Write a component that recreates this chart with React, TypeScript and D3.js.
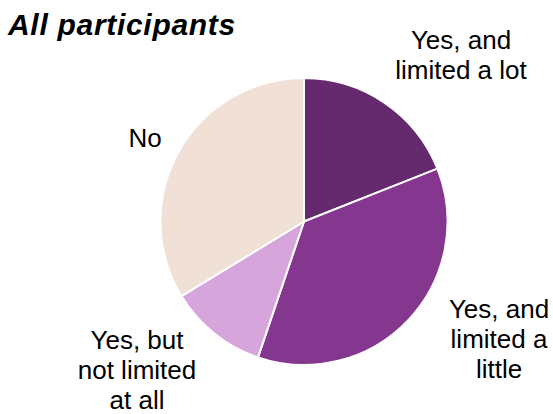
import React from "react";
import * as d3 from "d3";

const categories = [
  "Yes, and limited a lot",
  "Yes, and limited a little",
  "Yes, but not limited at all",
  "No",
];
const values = [19, 36.2, 11.1, 33.7];
const colors = ["#65296e", "#85378f", "#d5a5dc", "#f0e0d6"];
const labelLines = [
  ["Yes, and", "limited a lot"],
  ["Yes, and", "limited a", "little"],
  ["Yes, but", "not limited", "at all"],
  ["No"],
];
const labelPos: [number, number][] = [
  [461, 49],
  [499, 318],
  [137, 349],
  [145, 147],
];
const title = "All participants";

export default function App() {
  const W = 553;
  const H = 414;
  const cx = 304;
  const cy = 221.5;
  const r = 143.5;
  const pie = d3
    .pie<number>()
    .sort(null)
    .value((d) => d);
  const arcs = pie(values);
  const arc = d3.arc<d3.PieArcDatum<number>>().innerRadius(0).outerRadius(r);
  const font = "'Liberation Sans', Arial, Helvetica, sans-serif";
  return (
    <svg
      width={W}
      height={H}
      style={{ position: "absolute", left: 0, top: 0, background: "#fff" }}
    >
      <text
        x={8}
        y={35}
        fontFamily={font}
        fontWeight="bold"
        fontStyle="italic"
        fontSize={30}
        letterSpacing={0.7}
        fill="#000"
      >
        {title}
      </text>
      <g transform={`translate(${cx},${cy})`}>
        {arcs.map((a, i) => (
          <path
            key={categories[i]}
            d={arc(a) || ""}
            fill={colors[i]}
            stroke="#fff"
            strokeWidth={2}
          />
        ))}
      </g>
      {labelLines.map((lines, i) => (
        <text
          key={i}
          fontFamily={font}
          fontSize={26}
          textAnchor="middle"
          fill="#000"
        >
          {lines.map((ln, j) => (
            <tspan key={j} x={labelPos[i][0]} y={labelPos[i][1] + j * 30}>
              {ln}
            </tspan>
          ))}
        </text>
      ))}
    </svg>
  );
}
